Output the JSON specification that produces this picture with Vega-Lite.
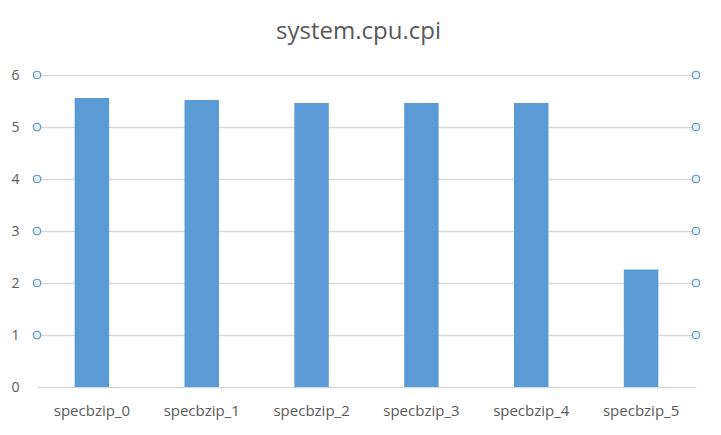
{
  "$schema": "https://vega.github.io/schema/vega-lite/v6.json",
  "width": 659,
  "height": 312,
  "autosize": {"type": "none"},
  "padding": {"left": 37, "top": 75, "right": 25, "bottom": 48},
  "background": "#ffffff",
  "title": {
    "text": "system.cpu.cpi",
    "font": "Open Sans",
    "fontSize": 24,
    "fontWeight": "normal",
    "color": "#595959",
    "anchor": "middle",
    "baseline": "alphabetic",
    "offset": 5,
    "dx": -8
  },
  "config": {
    "view": {"stroke": null},
    "axis": {"labelFont": "Open Sans", "labelColor": "#595959", "labelFontSize": 14, "domain": false, "ticks": false}
  },
  "datasets": {
    "bars": [
      {"benchmark": "specbzip_0", "cpi": 5.56},
      {"benchmark": "specbzip_1", "cpi": 5.52},
      {"benchmark": "specbzip_2", "cpi": 5.46},
      {"benchmark": "specbzip_3", "cpi": 5.46},
      {"benchmark": "specbzip_4", "cpi": 5.46},
      {"benchmark": "specbzip_5", "cpi": 2.26}
    ],
    "handles": [
      {"side": 0, "level": 1}, {"side": 0, "level": 2}, {"side": 0, "level": 3},
      {"side": 0, "level": 4}, {"side": 0, "level": 5}, {"side": 0, "level": 6},
      {"side": 1, "level": 1}, {"side": 1, "level": 2}, {"side": 1, "level": 3},
      {"side": 1, "level": 4}, {"side": 1, "level": 5}, {"side": 1, "level": 6}
    ]
  },
  "layer": [
    {
      "data": {"name": "bars"},
      "mark": {"type": "bar", "color": "#5B9BD5"},
      "encoding": {
        "x": {
          "field": "benchmark",
          "type": "nominal",
          "sort": null,
          "scale": {"paddingInner": 0.686, "paddingOuter": 0.343},
          "axis": {"title": null, "labelAngle": 0, "labelPadding": 16, "labelFontSize": 15, "grid": false}
        },
        "y": {
          "field": "cpi",
          "type": "quantitative",
          "scale": {"domain": [0, 6], "nice": false},
          "axis": {
            "title": null,
            "values": [0, 1, 2, 3, 4, 5, 6],
            "grid": true,
            "gridColor": "#D9D9D9",
            "gridWidth": 1.5,
            "labelPadding": 18
          }
        }
      }
    },
    {
      "data": {"name": "handles"},
      "mark": {"type": "point", "shape": "circle", "filled": true, "size": 60, "fill": "#DDF2FA", "stroke": "#5B86B5", "strokeWidth": 1, "opacity": 1},
      "encoding": {
        "x": {"field": "side", "type": "quantitative", "scale": {"domain": [0, 1], "nice": false}, "axis": null},
        "y": {"field": "level", "type": "quantitative"}
      }
    }
  ],
  "resolve": {"scale": {"x": "independent"}}
}
